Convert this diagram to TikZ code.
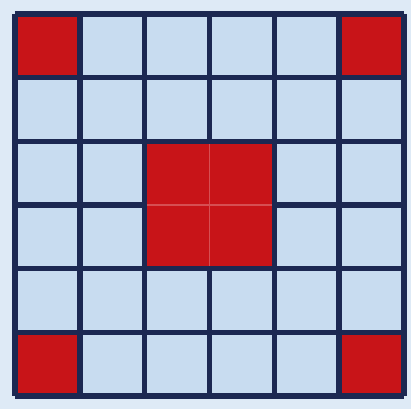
\documentclass[tikz,border=0pt]{standalone}
\usepackage{tikz}

\definecolor{cellblue}{RGB}{200,220,240}
\definecolor{gridnavy}{RGB}{28,40,82}
\definecolor{cellred}{RGB}{200,20,24}

\begin{document}
\begin{tikzpicture}[x=0.01cm,y=-0.01cm]
\useasboundingbox (0,0) rectangle (411,409);
\fill[cellblue!60!white] (0,0) rectangle (411,409);
\fill[cellblue] (15,14) rectangle (404,396);
% red corner cells (grid step 64.8 x 63.7)
\fill[cellred] (15,14) rectangle (79.8,77.7);
\fill[cellred] (339.2,14) rectangle (404,77.7);
\fill[cellred] (15,332.3) rectangle (79.8,396);
\fill[cellred] (339.2,332.3) rectangle (404,396);
% grid
\foreach \i in {0,...,6} {
  \draw[gridnavy,line width=1.6pt] ({15+64.83*\i},14) -- ({15+64.83*\i},396);
  \draw[gridnavy,line width=1.6pt] (15,{14+63.67*\i}) -- (404,{14+63.67*\i});
}
% center block covers the inner lines
\fill[cellred] (147.4,144.1) rectangle (271.6,265.9);
\draw[cellred!75!white,line width=0.4pt] (209.5,144.1) -- (209.5,265.9);
\draw[cellred!75!white,line width=0.4pt] (147.4,205) -- (271.6,205);
\end{tikzpicture}
\end{document}
